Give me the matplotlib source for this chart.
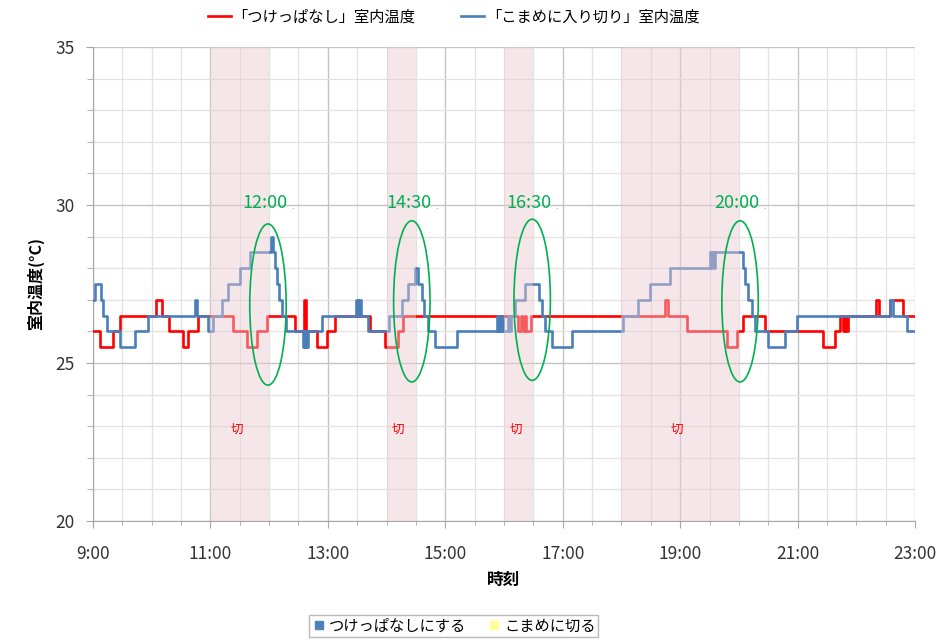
# %% 室内温度: つけっぱなし vs こまめに入り切り

import numpy as np
import matplotlib.pyplot as plt
from matplotlib.patches import Ellipse
from matplotlib.lines import Line2D

plt.rcParams['font.family'] = ['Noto Sans CJK JP', 'DejaVu Sans']

# %% Daten (Zeit in Stunden, Temperatur in °C, Stufenverlauf)

red_time = [9.00, 9.12, 9.34, 9.46, 10.07, 10.18, 10.29, 10.53, 10.61, 10.79,
            11.38, 11.62, 11.79, 11.96, 12.44, 12.60, 12.62, 12.82, 12.98, 13.12,
            13.72, 13.97, 14.19, 14.28, 16.23, 16.29, 16.32, 16.36, 16.38, 16.46,
            18.75, 18.79, 19.12, 19.80, 19.97, 20.07, 20.45, 21.43, 21.64, 21.72,
            21.78, 21.80, 21.83, 21.85, 22.34, 22.38, 22.58, 22.80, 23.00]
red_temp = [26.0, 25.5, 26.0, 26.5, 27.0, 26.5, 26.0, 25.5, 26.0, 26.5,
            26.0, 25.5, 26.0, 26.5, 26.0, 27.0, 26.0, 25.5, 26.0, 26.5,
            26.0, 25.5, 26.0, 26.5, 26.0, 26.5, 26.0, 26.5, 26.0, 26.5,
            27.0, 26.5, 26.0, 25.5, 26.0, 26.5, 26.0, 25.5, 26.0, 26.5,
            26.0, 26.5, 26.0, 26.5, 27.0, 26.5, 27.0, 26.5, 26.5]

blue_time = [9.00, 9.03, 9.14, 9.17, 9.24, 9.46, 9.72, 9.94, 10.74, 10.77,
             10.96, 11.04, 11.20, 11.30, 11.50, 11.67, 12.04, 12.07, 12.10, 12.13,
             12.17, 12.22, 12.29, 12.57, 12.59, 12.61, 12.63, 12.65, 12.67, 12.90,
             13.48, 13.51, 13.53, 13.57, 13.60, 13.68, 14.05, 14.27, 14.36, 14.48,
             14.53, 14.60, 14.64, 14.70, 14.83, 15.20, 15.88, 15.90, 15.92, 15.94,
             15.96, 15.98, 16.06, 16.08, 16.12, 16.19, 16.36, 16.60, 16.65, 16.70,
             16.82, 17.16, 18.03, 18.28, 18.49, 18.83, 19.51, 19.53, 19.55, 19.57,
             19.59, 20.07, 20.11, 20.16, 20.22, 20.27, 20.50, 20.78, 20.99, 22.58,
             22.63, 22.87, 23.00]
blue_temp = [27.0, 27.5, 27.0, 26.5, 26.0, 25.5, 26.0, 26.5, 27.0, 26.5,
             26.0, 26.5, 27.0, 27.5, 28.0, 28.5, 29.0, 28.5, 28.0, 27.5,
             27.0, 26.5, 26.0, 25.5, 26.0, 25.5, 26.0, 25.5, 26.0, 26.5,
             27.0, 26.5, 27.0, 26.5, 26.5, 26.0, 26.5, 27.0, 27.5, 28.0,
             27.5, 27.0, 26.5, 26.0, 25.5, 26.0, 26.5, 26.0, 26.5, 26.0,
             26.5, 26.0, 26.5, 26.0, 26.5, 27.0, 27.5, 27.0, 26.5, 26.0,
             25.5, 26.0, 26.5, 27.0, 27.5, 28.0, 28.5, 28.0, 28.5, 28.0,
             28.5, 28.0, 27.5, 27.0, 26.5, 26.0, 25.5, 26.0, 26.5, 27.0,
             26.5, 26.0, 26.0]

# Aus-Zeiten (切)
off_start = [11.0, 14.0, 16.0, 18.0]
off_end = [12.0, 14.5, 16.5, 20.0]

# Markierungen (Ellipsen + Uhrzeit)
mark_labels = ['12:00', '14:30', '16:30', '20:00']
mark_x = [11.98, 14.43, 16.48, 20.02]
mark_y = [26.85, 26.95, 27.0, 26.95]

tick_labels = ['9:00', '11:00', '13:00', '15:00', '17:00', '19:00', '21:00', '23:00']

# %% Plot

fig = plt.figure(figsize=(9.41, 6.4), dpi=100)
ax = fig.add_axes([0.0988, 0.1859, 0.8736, 0.7407])

ax.step(red_time, red_temp, where='post', color='#ff0000', lw=1.9, zorder=3)
ax.step(blue_time, blue_temp, where='post', color='#4a7ebb', lw=1.9, zorder=3.5)

for s, e in zip(off_start, off_end):
    ax.axvspan(s, e, color='#e9c9d0', alpha=0.45, lw=0, zorder=4)
    ax.text((s + e) / 2 - 0.05, 22.9, '切', color='#ff0000', fontsize=9,
            ha='center', va='center', zorder=6)

for lab, x, y in zip(mark_labels, mark_x, mark_y):
    ax.add_patch(Ellipse((x, y), 0.62, 5.1, fill=False, ec='#00b050',
                         lw=1.2, zorder=5))
    ax.text(x - 0.05, 30.05, lab, color='#00b050', fontsize=13,
            ha='center', va='center', zorder=6)
    ax.text(x + 0.42, 29.95, '.', color='#00b050', fontsize=6,
            ha='center', va='center', zorder=6)

ax.set_xlim(9, 23)
ax.set_ylim(20, 35)

ax.set_xticks(np.arange(9, 24, 2))
ax.set_xticklabels(tick_labels)
ax.set_xticks(np.arange(9, 23.01, 0.5), minor=True)
ax.set_yticks([20, 25, 30, 35])
ax.set_yticks(np.arange(20, 35.01, 1), minor=True)

ax.grid(which='major', color='#c4c4c4', lw=1.0, zorder=0)
ax.grid(which='minor', color='#e2e2e2', lw=0.9, zorder=0)
ax.set_axisbelow(True)

ax.tick_params(which='both', direction='out', color='#a6a6a6', labelcolor='#333333')
ax.tick_params(which='major', length=5, labelsize=12.5)
ax.tick_params(axis='x', which='major', pad=12)
ax.tick_params(axis='x', which='minor', length=3)
ax.tick_params(axis='y', which='minor', length=4)
ax.tick_params(axis='y', which='major', pad=8)

for side in ['top', 'right']:
    ax.spines[side].set_visible(False)
for side in ['left', 'bottom']:
    ax.spines[side].set_color('#a6a6a6')

ax.set_xlabel('時刻', fontsize=12, fontweight='bold', labelpad=6)
ax.set_ylabel('室内温度(°C)', fontsize=11.5, fontweight='bold', labelpad=8)

top_handles = [Line2D([], [], color='#ff0000', lw=1.9),
               Line2D([], [], color='#4a7ebb', lw=1.9)]
fig.legend(top_handles, ['「つけっぱなし」室内温度', '「こまめに入り切り」室内温度'],
           loc='center', bbox_to_anchor=(0.482, 0.973), ncol=2, frameon=False,
           fontsize=11, handlelength=1.5, handletextpad=0.1, columnspacing=3.0)

bot_handles = [Line2D([], [], ls='', marker='s', ms=6, color='#4f81bd'),
               Line2D([], [], ls='', marker='s', ms=6, color='#ffff99')]
leg = fig.legend(bot_handles, ['つけっぱなしにする', 'こまめに切る'],
                 loc='center', bbox_to_anchor=(0.482, 0.022), ncol=2, frameon=True,
                 fancybox=False, edgecolor='#a6a6a6', fontsize=11,
                 handlelength=0.9, handletextpad=0.2, columnspacing=1.4,
                 borderpad=0.15, borderaxespad=0.2)
leg.get_frame().set_linewidth(1.0)

fig.savefig('out.png', dpi=100)
